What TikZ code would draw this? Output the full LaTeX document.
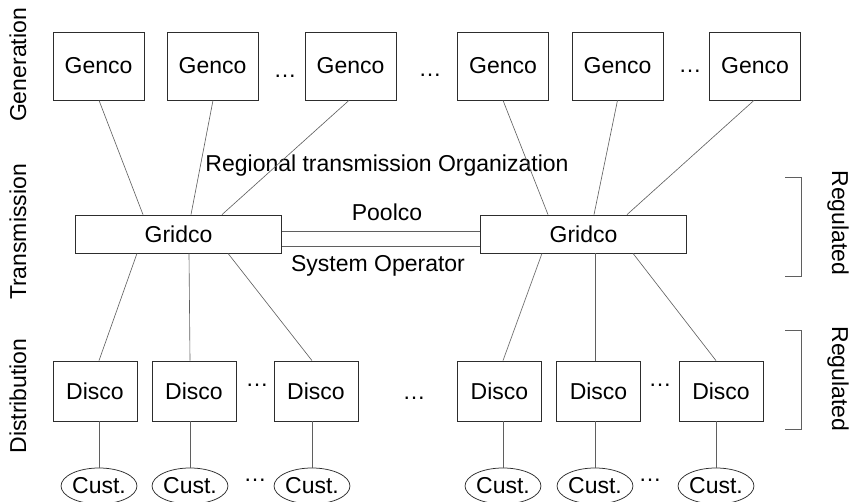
\documentclass[tikz,border=0pt]{standalone}
\usepackage{fontspec}
\setmainfont{Liberation Sans}
\usepackage{tikz}
\usetikzlibrary{shapes.geometric}
\definecolor{cc}{RGB}{95, 95, 95}
\definecolor{cb}{RGB}{45, 45, 45}

\begin{document}
\begin{tikzpicture}[every node/.style={inner sep=0pt, font=\fontsize{23}{27}\selectfont},
  box/.style={rectangle, draw=cb, line width=0.75pt},
  genco/.style={box, minimum width=91pt, minimum height=68pt},
  gridco/.style={box, minimum width=206pt, minimum height=38pt},
  disco/.style={box, minimum width=84pt, minimum height=60pt},
  cust/.style={ellipse, draw=cb, line width=0.75pt, minimum width=70pt, minimum height=36pt},
  ln/.style={line width=0.625pt, color=cc}]
\useasboundingbox (0pt, 0pt) rectangle (849pt, -502pt);
% levels
\node (gen) [rotate=90] at (18.0pt, -65.0pt) {Generation};
\node (tra) [rotate=90] at (18.0pt, -232.0pt) {Transmission};
\node (dis) [rotate=90] at (18.0pt, -396.0pt) {Distribution};
% generation
\node (ge1) [genco] at (98.5pt, -66.0pt) {Genco};
\node (ge2) [genco] at (212.5pt, -66.0pt) {Genco};
\node (ge3) [genco] at (350.5pt, -66.0pt) {Genco};
\node (ge4) [genco] at (503.0pt, -66.0pt) {Genco};
\node (ge5) [genco] at (617.5pt, -66.0pt) {Genco};
\node (ge6) [genco] at (755.0pt, -66.0pt) {Genco};
\node (dg1) at (285.0pt, -76.0pt) {\dots};
\node (dg2) at (430.0pt, -75.0pt) {\dots};
\node (dg3) at (690.0pt, -71.0pt) {\dots};
% transmission
\node (gr1) [gridco] at (178.5pt, -234.0pt) {Gridco};
\node (gr2) [gridco] at (583.5pt, -234.0pt) {Gridco};
\node (rto) at (387.0pt, -166.0pt) {Regional transmission Organization};
\node (poo) at (387.0pt, -212.0pt) {Poolco};
\node (sys) at (378.0pt, -266.0pt) {System Operator};
% distribution
\node (di1) [disco] at (95.0pt, -391.0pt) {Disco};
\node (di2) [disco] at (194.0pt, -391.0pt) {Disco};
\node (di3) [disco] at (316.0pt, -391.0pt) {Disco};
\node (di4) [disco] at (499.5pt, -391.0pt) {Disco};
\node (di5) [disco] at (598.5pt, -391.0pt) {Disco};
\node (di6) [disco] at (721.0pt, -391.0pt) {Disco};
\node (dd1) at (257.0pt, -385.0pt) {\dots};
\node (dd2) at (660.0pt, -385.0pt) {\dots};
\node (dd3) at (414.0pt, -398.0pt) {\dots};
% customers
\node (cu1) [cust] at (99.0pt, -486.0pt) {Cust.};
\node (cu2) [cust] at (190.0pt, -486.0pt) {Cust.};
\node (cu3) [cust] at (312.0pt, -486.0pt) {Cust.};
\node (cu4) [cust] at (503.0pt, -486.0pt) {Cust.};
\node (cu5) [cust] at (595.0pt, -486.0pt) {Cust.};
\node (cu6) [cust] at (716.0pt, -486.0pt) {Cust.};
\node (dc1) at (255.0pt, -480.0pt) {\dots};
\node (dc2) at (650.0pt, -480.0pt) {\dots};
% regulated
\node (re1) [rotate=-90] at (838.0pt, -223.0pt) {Regulated};
\node (re2) [rotate=-90] at (838.0pt, -379.0pt) {Regulated};
\coordinate (b1) at (785.0pt, -177.0pt);
\coordinate (b2) at (801.0pt, -276.0pt);
\coordinate (b3) at (785.0pt, -330.0pt);
\coordinate (b4) at (801.0pt, -429.0pt);
\draw [ln] (b1) -| (b2) -- (b2 -| b1);
\draw [ln] (b3) -| (b4) -- (b4 -| b3);
% genco to gridco
\draw [ln] ([xshift=0.5pt]ge1.south) to ([xshift=-35.5pt]gr1.north);
\draw [ln] ([xshift=0.5pt]ge2.south) to ([xshift=12.5pt]gr1.north);
\draw [ln] ([xshift=-1.5pt]ge3.south) to ([xshift=43.5pt]gr1.north);
\draw [ln] (ge4.south) to ([xshift=-35.5pt]gr2.north);
\draw [ln] (ge5.south) to ([xshift=10.5pt]gr2.north);
\draw [ln] ([xshift=-1.0pt]ge6.south) to ([xshift=43.5pt]gr2.north);
% gridco to gridco
\draw [ln] ([yshift=3.0pt]gr1.east) to ([yshift=3.0pt]gr2.west);
\draw [ln] ([yshift=-12.0pt]gr1.east) to ([yshift=-12.0pt]gr2.west);
% gridco to disco
\draw [ln] ([xshift=-41.5pt]gr1.south) to ([xshift=4.0pt]di1.north);
\draw [ln] ([xshift=10.5pt]gr1.south) to ([xshift=-4.0pt]di2.north);
\draw [ln] ([xshift=49.5pt]gr1.south) to ([xshift=-4.0pt]di3.north);
\draw [ln] ([xshift=-41.5pt]gr2.south) to ([xshift=3.5pt]di4.north);
\draw [ln] ([xshift=11.5pt]gr2.south) to ([xshift=-3.5pt]di5.north);
\draw [ln] ([xshift=49.5pt]gr2.south) to ([xshift=-5.0pt]di6.north);
% disco to cust
\draw [ln] (cu1.north |- di1.south) to (cu1.north);
\draw [ln] (cu2.north |- di2.south) to (cu2.north);
\draw [ln] (cu3.north |- di3.south) to (cu3.north);
\draw [ln] (cu4.north |- di4.south) to (cu4.north);
\draw [ln] (cu5.north |- di5.south) to (cu5.north);
\draw [ln] (cu6.north |- di6.south) to (cu6.north);
\end{tikzpicture}
\end{document}
